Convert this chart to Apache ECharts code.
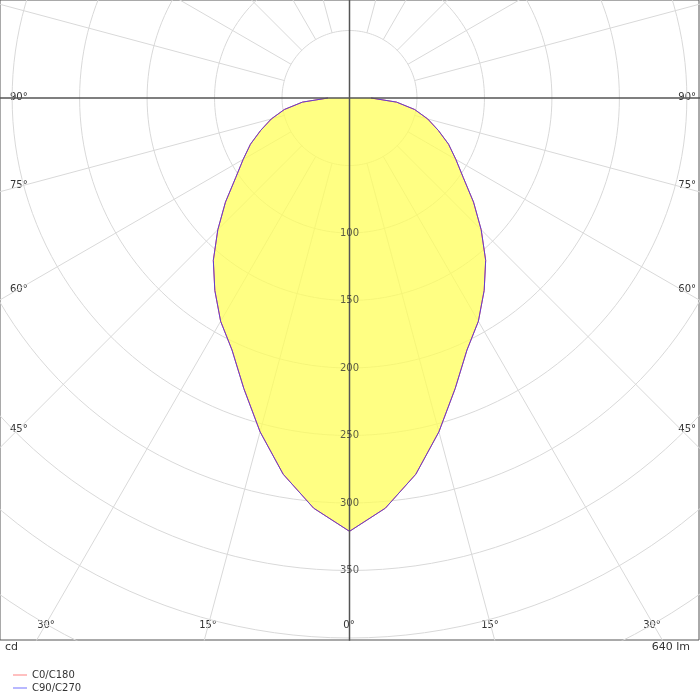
<!DOCTYPE html>
<html><head><meta charset="utf-8">
<script src="https://cdn.jsdelivr.net/npm/echarts@6/dist/echarts.min.js"></script>
<style>html,body{margin:0;padding:0;background:#fff}#main{width:700px;height:700px}</style>
</head><body><div id="main"></div>
<script>
// gamma angles (deg from nadir) and intensities (cd)
var angles = [0, 5, 10, 15, 20, 25, 30, 35, 40, 45, 50, 55, 60, 65, 70, 75, 80, 85, 90];
var c0c180 = [321, 305, 283, 256, 229, 206, 191, 174, 157, 138, 120, 103, 91, 81, 70, 60, 49, 35, 16];
var c90c270 = [321, 305, 283, 256, 229, 206, 191, 174, 157, 138, 120, 103, 91, 81, 70, 60, 49, 35, 16];
var rings = [50, 100, 150, 200, 250, 300, 350, 400, 450, 500];
var ringLabels = [100, 150, 200, 250, 300, 350];
var sideLabels = ['90°', '75°', '60°', '45°'];
var bottomLabels = ['30°', '15°', '0°', '15°', '30°'];

function toXY(deg, r) {
    var t = deg * Math.PI / 180;
    return [r * Math.sin(t), -r * Math.cos(t)];
}
function curve(vals) {
    var pts = [];
    for (var i = angles.length - 1; i > 0; i--) pts.push(toXY(-angles[i], vals[i]));
    for (var j = 0; j < angles.length; j++) pts.push(toXY(angles[j], vals[j]));
    return pts;
}

var gridSeries = [];
rings.forEach(function (r) {
    var pts = [];
    for (var a = 0; a <= 360; a += 2) pts.push(toXY(a, r));
    gridSeries.push({type: 'line', data: pts, symbol: 'none', silent: true,
        lineStyle: {color: '#d9d9d9', width: 1}, z: 1});
});
for (var a = 0; a < 360; a += 15) {
    if (a % 90 === 0) continue;
    gridSeries.push({type: 'line', data: [toXY(a, 50), toXY(a, 600)], symbol: 'none', silent: true,
        lineStyle: {color: '#d9d9d9', width: 1}, z: 1});
}
gridSeries.push({type: 'line', data: [[-300, 0], [300, 0]], symbol: 'none', silent: true,
    lineStyle: {color: '#555', width: 1.5}, z: 6});
gridSeries.push({type: 'line', data: [[0, -500], [0, 100]], symbol: 'none', silent: true,
    lineStyle: {color: '#555', width: 1.5}, z: 6});

var fillPts = curve(c90c270);

var option = {
    animation: false,
    grid: {left: 0, top: 0, width: 699, height: 640, show: true, borderColor: '#555', borderWidth: 1},
    xAxis: {type: 'value', min: -259, max: 259, show: false},
    yAxis: {type: 'value', min: -401.5, max: 72.6, show: false},
    legend: {
        orient: 'vertical', left: 8, top: 665, itemGap: 3, itemWidth: 14, itemHeight: 1,
        icon: 'rect', textStyle: {fontSize: 10, color: '#333', fontFamily: 'DejaVu Sans'},
        data: ['C0/C180', 'C90/C270']
    },
    series: gridSeries.concat([
        {type: 'custom', silent: true, z: 2, data: [0],
            renderItem: function (params, api) {
                return {type: 'polygon',
                    shape: {points: fillPts.map(function (p) { return api.coord(p); })},
                    style: {fill: 'rgba(255,255,90,0.75)'}};
            }},
        {name: 'C0/C180', type: 'line', data: curve(c0c180), symbol: 'none',
            lineStyle: {color: '#ff6060', width: 1}, itemStyle: {color: '#ff8080'}, z: 4},
        {name: 'C90/C270', type: 'line', data: fillPts, symbol: 'none',
            lineStyle: {color: '#6040d0', width: 1}, itemStyle: {color: '#7070ff'}, z: 5},
        {type: 'scatter', symbolSize: 0, silent: true, z: 7,
            data: ringLabels.map(function (v) { return [0, -v]; }),
            label: {show: true, position: 'inside', color: '#333', fontSize: 10, fontFamily: 'DejaVu Sans',
                formatter: function (p) { return String(-p.value[1]); }}}
    ]),
    graphic: [
        {type: 'text', left: 5, top: 642, style: {text: 'cd', fontSize: 11, fill: '#333', fontFamily: 'DejaVu Sans'}},
        {type: 'text', right: 10, top: 642, style: {text: '640 lm', fontSize: 11, fill: '#333', fontFamily: 'DejaVu Sans'}}
    ]
};
// angle labels along the frame
var sideY = [98, 186, 290, 430];
sideLabels.forEach(function (t, i) {
    option.graphic.push({type: 'text', left: 10, top: sideY[i] - 6, style: {text: t, fontSize: 10, fill: '#333', fontFamily: 'DejaVu Sans'}});
    option.graphic.push({type: 'text', right: 4, top: sideY[i] - 6, style: {text: t, fontSize: 10, fill: '#333', fontFamily: 'DejaVu Sans'}});
});
var botX = [46, 208, 349, 490, 652];
bottomLabels.forEach(function (t, i) {
    option.graphic.push({type: 'text', x: botX[i], y: 620, style: {text: t, fontSize: 10, fill: '#333', align: 'center', fontFamily: 'DejaVu Sans'}});
});

var myChart = echarts.init(document.getElementById('main'));
myChart.setOption(option, true);
</script>
</body></html>
